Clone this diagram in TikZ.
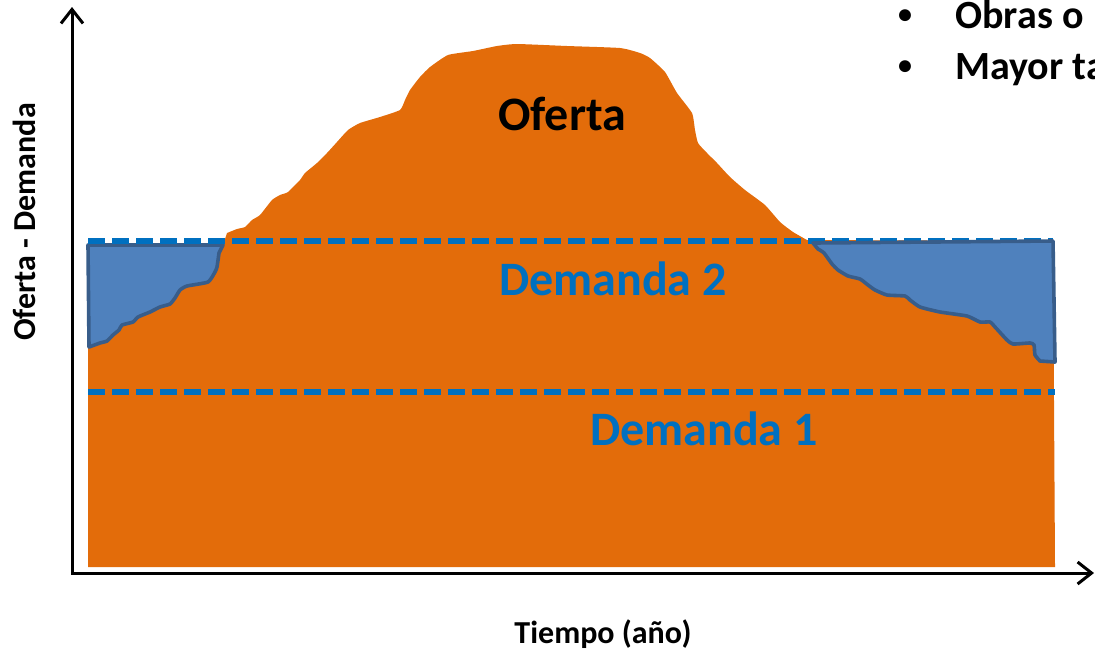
\documentclass[tikz,border=0pt]{standalone}
\usepackage{fontspec}
\setmainfont{Carlito}
\usetikzlibrary{arrows.meta}
\definecolor{oferta}{RGB}{227,108,10}
\definecolor{demanda}{RGB}{0,112,192}
\definecolor{deficit}{RGB}{79,129,189}
\definecolor{deficitline}{RGB}{56,93,138}

\begin{document}
\begin{tikzpicture}[x=0.5pt, y=-0.5pt,
  axis/.style = {line width=1.5pt, {Straight Barb[length=7pt, width=11pt]}-{Straight Barb[length=7pt, width=11pt]}},
  demline/.style = {demanda, line width=2.8pt, dash pattern=on 8.5pt off 3.5pt},
  hueco/.style = {fill=deficit, draw=deficitline, line width=1.8pt, line join=round},
  big/.style = {anchor=base, font=\fontsize{24}{28}\selectfont\bfseries},
  small/.style = {anchor=base, font=\fontsize{16}{19}\selectfont\bfseries},
  item/.style = {anchor=base west, inner sep=0pt, font=\fontsize{20}{24}\selectfont\bfseries},
  dot/.style = {anchor=base, inner sep=0pt, font=\fontsize{14}{16}\selectfont\bfseries}]
\useasboundingbox (0,0) rectangle (1095,650);
\clip (0,0) rectangle (1095,650);
\fill[oferta] (88,567) -- (88,245) -- (223,245)
  -- plot[smooth, tension=0.3] coordinates {(227,233) (237,229) (245,227) (252,220) (260,215) (272,200) (280,195) (288,192) (300,180) (305,173) (317,163) (327,153) (337,142) (348,130) (360,123) (380,117) (400,110) (405,100) (410,90) (420,77) (430,67) (448,55) (473,51) (497,46) (517,44) (567,46) (620,48) (640,53) (650,58) (665,72) (677,93) (692,113) (695,130) (698,143) (707,153) (717,163) (730,177) (745,190) (765,205) (780,222) (793,232) (807,240)}
  -- (1053,241) -- (1055,567) -- cycle;
\filldraw[hueco] (88,245) -- (223,245)
  -- plot[smooth, tension=0.3] coordinates {(219,253) (217,267) (215,272) (208,282) (187,286) (180,290) (175,298) (170,304) (160,307) (150,312) (138,317) (133,322) (122,325) (119,330) (113,335) (107,341) (100,343) (89,347)}
  -- cycle;
\coordinate (d2a) at (88,241);
\coordinate (d2b) at (1053,241);
\coordinate (d1a) at (88,392);
\coordinate (d1b) at (1055,392);
\draw[demline] (d2a) -- (d2b);
\draw[demline] (d1a) -- (d1b);
\filldraw[hueco] (813,243) -- (1053,241) -- (1055,362)
  -- plot[smooth, tension=0.3] coordinates {(1040,361) (1035,355) (1034,345) (1030,343) (1013,344) (1007,340) (995,327) (990,322) (980,322) (967,316) (940,312) (920,307) (910,300) (905,296) (887,295) (875,290) (868,285) (860,279) (848,276) (838,270) (832,264) (824,253) (818,249)}
  -- cycle;
\coordinate (ytop) at (72,7);
\coordinate (origen) at (72,573);
\coordinate (xend) at (1094,573);
\draw[axis] (ytop) -- (origen) -- (xend);
\node[big] (oferta) at (562,130) {Oferta};
\node[big, text=demanda] (dem2) at (613,295) {Demanda 2};
\node[big, text=demanda] (dem1) at (704,445) {Demanda 1};
\node[small] (tiempo) at (603,643) {Tiempo (año)};
\node[small, rotate=90] (od) at (35,222) {Oferta - Demanda};
\node[dot] (b1) at (905,23) {•};
\node[item] (t1) at (955,28) {Obras o};
\node[dot] (b2) at (905,74) {•};
\node[item] (t2) at (955,79) {Mayor ta};
\end{tikzpicture}
\end{document}
